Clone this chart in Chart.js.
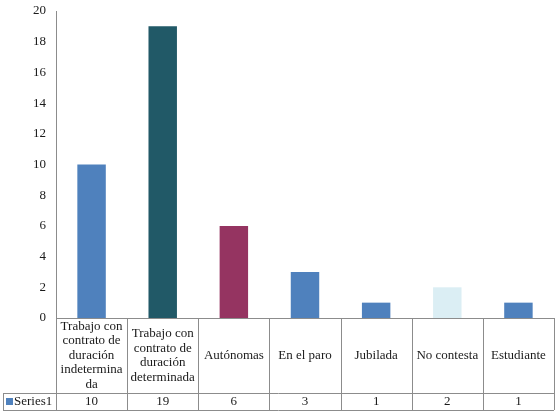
<!DOCTYPE html>
<html>
<head>
<meta charset="utf-8">
<script src="https://cdn.jsdelivr.net/npm/chart.js@4.4.0/dist/chart.umd.min.js"></script>
<style>
  html, body { margin: 0; padding: 0; background: #fff; }
  #wrap { width: 557px; height: 415px; position: relative; }
</style>
</head>
<body>
<div id="wrap"><canvas id="c" width="557" height="415"></canvas></div>
<script>
const categories = [
  ["Trabajo con", "contrato de", "duración", "indetermina", "da"],
  ["Trabajo con", "contrato de", "duración", "determinada"],
  ["Autónomas"],
  ["En el paro"],
  ["Jubilada"],
  ["No contesta"],
  ["Estudiante"]
];
const seriesName = "Series1";
const values = [10, 19, 6, 3, 1, 2, 1];
const barColors = ["#4F81BD", "#215967", "#953461", "#4F81BD", "#4F81BD", "#DBEEF4", "#4F81BD"];
const yTicks = { min: 0, max: 20, step: 2 };

const FONT = "'Liberation Serif', 'DejaVu Serif', serif";
Chart.defaults.font.family = FONT;

const tablePlugin = {
  id: 'dataTable',
  afterDraw(chart) {
    const ctx = chart.ctx;
    const x = chart.scales.x;
    const area = chart.chartArea;
    const n = categories.length;
    const colW = (area.right - area.left) / n;
    const top = area.bottom;
    const row1 = top + 75;
    const row2 = row1 + 17;
    const leftEdge = 3;
    ctx.save();
    ctx.strokeStyle = "#8c8c8c";
    ctx.lineWidth = 1;
    ctx.beginPath();
    ctx.moveTo(area.left, top + 0.5); ctx.lineTo(area.right, top + 0.5);
    ctx.moveTo(leftEdge, row1 + 0.5); ctx.lineTo(area.right, row1 + 0.5);
    ctx.moveTo(leftEdge, row2 + 0.5); ctx.lineTo(area.right, row2 + 0.5);
    for (let i = 0; i <= n; i++) {
      const px = Math.round(x.getPixelForValue(i) - colW / 2) + 0.5;
      ctx.moveTo(px, top); ctx.lineTo(px, row2);
    }
    ctx.moveTo(leftEdge + 0.5, row1); ctx.lineTo(leftEdge + 0.5, row2);
    ctx.stroke();

    ctx.fillStyle = "#1a1a1a";
    ctx.font = "13px " + FONT;
    ctx.textAlign = "center";
    ctx.textBaseline = "middle";
    const lh = 14.5;
    categories.forEach((lines, i) => {
      const cx = x.getPixelForValue(i);
      const cy = (top + row1) / 2;
      const start = cy - (lines.length - 1) * lh / 2;
      lines.forEach((t, j) => ctx.fillText(t, cx, start + j * lh));
      ctx.fillText(String(values[i]), cx, (row1 + row2) / 2 + 0.5);
    });
    ctx.fillStyle = "#4F81BD";
    ctx.fillRect(6, row1 + 5, 7, 7);
    ctx.fillStyle = "#1a1a1a";
    ctx.textAlign = "left";
    ctx.fillText(seriesName, 14, (row1 + row2) / 2 + 0.5);
    ctx.restore();
  }
};

new Chart(document.getElementById('c'), {
  type: 'bar',
  data: {
    labels: categories.map(l => l.join(' ')),
    datasets: [{
      label: seriesName,
      data: values,
      backgroundColor: barColors,
      borderWidth: 0,
      categoryPercentage: 1.0,
      barPercentage: 0.4
    }]
  },
  options: {
    responsive: false,
    animation: false,
    devicePixelRatio: 1,
    layout: { padding: { top: 11, right: 3, bottom: 97, left: 0 } },
    plugins: { legend: { display: false }, tooltip: { enabled: false } },
    scales: {
      x: { display: false },
      y: {
        min: yTicks.min, max: yTicks.max,
        ticks: { stepSize: yTicks.step, color: "#1a1a1a", font: { size: 13, family: FONT }, padding: 10 },
        grid: { display: false, drawTicks: false },
        border: { display: true, color: "#8c8c8c" },
        afterFit(s) { s.width = 56; s.paddingTop = 0; s.paddingBottom = 0; }
      }
    }
  },
  plugins: [tablePlugin]
});
</script>
</body>
</html>
